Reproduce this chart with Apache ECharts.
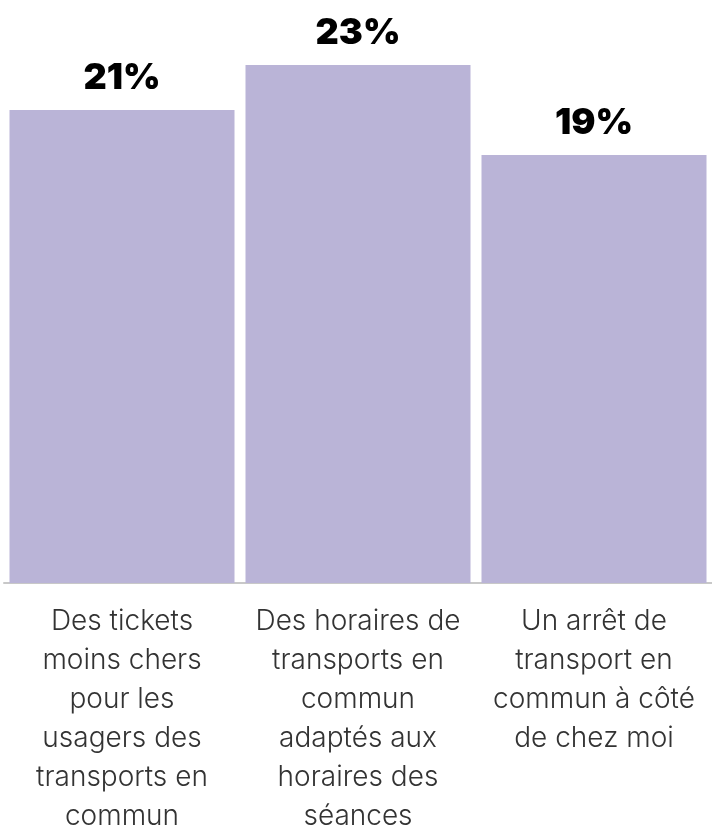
<!DOCTYPE html>
<html><head><meta charset="utf-8">
<script src="https://cdn.jsdelivr.net/npm/echarts@6/dist/echarts.min.js"></script>
<style>html,body{margin:0;padding:0;background:#fff}#c{width:712px;height:829px}</style>
</head><body><div id="c"></div>
<script>
const categories = [
  "Des tickets\nmoins chers\npour les\nusagers des\ntransports en\ncommun",
  "Des horaires de\ntransports en\ncommun\nadaptés aux\nhoraires des\nséances",
  "Un arrêt de\ntransport en\ncommun à côté\nde chez moi"
];
const values = [21, 23, 19];

const chart = echarts.init(document.getElementById('c'), null, {renderer: 'canvas'});
chart.setOption({
  animation: false,
  grid: {left: 4, right: 0, top: 20, bottom: 246, containLabel: false, outerBoundsMode: 'none'},
  xAxis: {
    type: 'category',
    data: categories,
    axisLine: {show: true, lineStyle: {color: '#c8c8c8', width: 2}},
    axisTick: {show: false},
    axisLabel: {
      interval: 0, margin: 19,
      fontFamily: 'Inter', fontWeight: 300, fontSize: 28, lineHeight: 39, color: '#333',
      verticalAlign: 'top'
    }
  },
  yAxis: {type: 'value', min: 0, max: 25, show: false, splitLine: {show: false}},
  series: [{
    type: 'bar',
    data: values,
    barWidth: 225,
    itemStyle: {color: '#bab4d7'},
    label: {
      show: true, position: 'top', distance: 14,
      formatter: p => p.value + '%',
      fontFamily: 'Inter', fontWeight: 900, fontSize: 36, color: '#000'
    }
  }]
});
</script></body></html>
